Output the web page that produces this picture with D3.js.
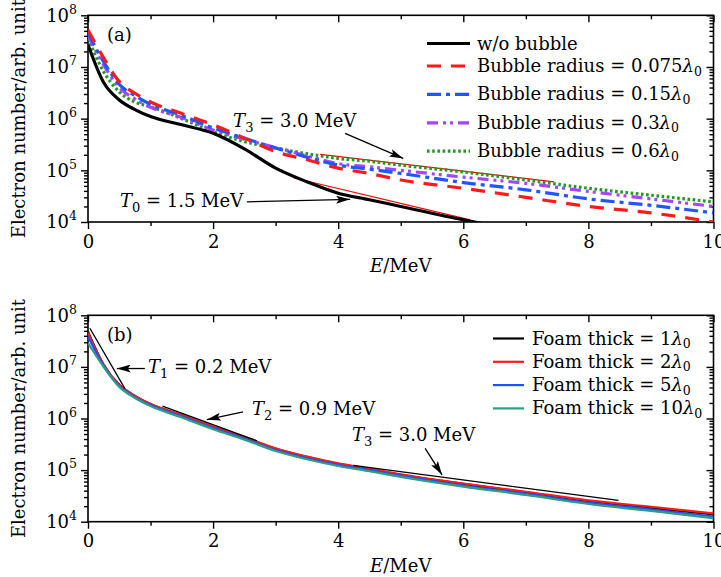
<!DOCTYPE html>
<html>
<head>
<meta charset="utf-8">
<script src="https://cdn.jsdelivr.net/npm/d3@7"></script>
<style>
  body { margin: 0; background: #fff; }
  text { font-family: 'DejaVu Serif', serif; fill: #000; }
</style>
</head>
<body>
<div id="chart"></div>
<script>
// energy grid (MeV) shared by all curves
const energy = [0, 0.25, 0.5, 0.75, 1, 1.5, 2, 2.5, 3, 3.5, 4, 4.5, 5, 6, 7, 8, 9, 10]

// panel (a): bubble radius scan
const noBubble = [2.7e7, 5.0e6, 2.3e6, 1.5e6, 1.1e6, 7.6e5, 5.2e5, 2.6e5, 1.1e5, 6.0e4, 3.6e4, 2.7e4, 2.0e4, 1.1e4, 6.5e3, 4e3, 2.5e3, 1.5e3]
const bubble0075 = [5.2e7, 1.5e7, 5.2e6, 3.1e6, 2.1e6, 1.26e6, 7.6e5, 4.2e5, 2.3e5, 1.6e5, 1.1e5, 8.7e4, 6.5e4, 4.5e4, 3.0e4, 2.0e4, 1.5e4, 1.0e4]
const bubble015 = [4.6e7, 1.26e7, 4.6e6, 2.8e6, 1.9e6, 1.15e6, 6.6e5, 4.2e5, 2.7e5, 1.8e5, 1.26e5, 1.05e5, 8.7e4, 5.8e4, 4.2e4, 2.8e4, 2.1e4, 1.5e4]
const bubble03 = [4.0e7, 1.1e7, 4.0e6, 2.4e6, 1.66e6, 1.05e6, 6.0e5, 4.0e5, 2.75e5, 1.9e5, 1.35e5, 1.17e5, 1.0e5, 7.4e4, 5.6e4, 3.9e4, 2.8e4, 2.0e4]
const bubble06 = [3.6e7, 8.1e6, 3.3e6, 2.1e6, 1.7e6, 1.0e6, 5.6e5, 3.6e5, 2.7e5, 2.1e5, 1.7e5, 1.5e5, 1.26e5, 9.3e4, 6.5e4, 4.5e4, 3.3e4, 2.45e4]
const bubbleLabels = ['w/o bubble', 'Bubble radius = 0.075', 'Bubble radius = 0.15', 'Bubble radius = 0.3', 'Bubble radius = 0.6']

// panel (b): foam thickness scan
const foam1 = [4.8e7, 1.1e7, 4.5e6, 2.75e6, 1.9e6, 1.15e6, 6.8e5, 4.3e5, 2.6e5, 1.8e5, 1.32e5, 1.05e5, 8.1e4, 5.4e4, 3.7e4, 2.5e4, 1.86e4, 1.38e4]
const foam2 = [4.6e7, 1.1e7, 4.5e6, 2.75e6, 1.9e6, 1.17e6, 6.9e5, 4.4e5, 2.65e5, 1.82e5, 1.35e5, 1.07e5, 8.3e4, 5.5e4, 3.8e4, 2.6e4, 1.95e4, 1.45e4]
const foam5 = [3.9e7, 1.05e7, 4.3e6, 2.6e6, 1.82e6, 1.1e6, 6.5e5, 4.1e5, 2.45e5, 1.7e5, 1.26e5, 1.0e5, 7.8e4, 5.0e4, 3.5e4, 2.35e4, 1.74e4, 1.26e4]
const foam10 = [2.9e7, 1.0e7, 4.1e6, 2.5e6, 1.74e6, 1.05e6, 6.2e5, 3.9e5, 2.35e5, 1.62e5, 1.2e5, 9.5e4, 7.4e4, 4.8e4, 3.3e4, 2.2e4, 1.62e4, 1.17e4]
const foamLabels = ['Foam thick = 1', 'Foam thick = 2', 'Foam thick = 5', 'Foam thick = 10']

// temperature fit lines [E, N]
const fitA = [
  { from: [3.71, 2.04e5], to: [7.45, 6.0e4] },
  { from: [3.29, 7.1e4], to: [6.11, 1.1e4] }
]
const fitB = [
  { from: [0.03, 5.6e7], to: [0.59, 3.8e6] },
  { from: [1.19, 1.74e6], to: [2.70, 3.7e5] },
  { from: [4.24, 1.23e5], to: [8.48, 2.6e4] }
]

const W = 721
const H = 577
const left = 88
const right = 713.5

const svg = d3
  .select('#chart')
  .append('svg')
  .attr('width', W)
  .attr('height', H)

const defs = svg.append('defs')
defs
  .append('marker')
  .attr('id', 'arrow')
  .attr('viewBox', '0 0 14 8')
  .attr('refX', 14)
  .attr('refY', 4)
  .attr('markerWidth', 14)
  .attr('markerHeight', 8)
  .attr('markerUnits', 'userSpaceOnUse')
  .attr('orient', 'auto')
  .append('path')
  .attr('d', 'M0,0 L14,4 L0,8 L3,4 Z')
  .attr('fill', '#000')

function makePanel (id, top, bottom) {
  const x = d3.scaleLinear().domain([0, 10]).range([left, right])
  const y = d3.scaleLog().domain([1e4, 1e8]).range([bottom, top])
  const g = svg.append('g')

  defs
    .append('clipPath')
    .attr('id', 'clip-' + id)
    .append('rect')
    .attr('x', left)
    .attr('y', top)
    .attr('width', right - left)
    .attr('height', bottom - top)

  const major = [0, 2, 4, 6, 8, 10]
  const minor = [1, 3, 5, 7, 9]
  const decades = [1e4, 1e5, 1e6, 1e7, 1e8]
  const yMinor = []
  for (let p = 4; p < 8; p++) {
    for (let k = 2; k <= 9; k++) yMinor.push(k * Math.pow(10, p))
  }

  // bottom (labelled) and top ticks, all pointing down
  const xb = g.append('g').attr('class', 'axis').attr('transform', 'translate(0,' + bottom + ')')
    .call(d3.axisBottom(x).tickValues(major).tickSize(7).tickPadding(6).tickFormat(d3.format('d')))
  xb.selectAll('text').attr('font-size', 18)
  g.append('g').attr('transform', 'translate(0,' + bottom + ')')
    .call(d3.axisBottom(x).tickValues(minor).tickSize(4).tickFormat(''))
  g.append('g').attr('transform', 'translate(0,' + top + ')')
    .call(d3.axisBottom(x).tickValues(major).tickSize(7).tickFormat(''))
  g.append('g').attr('transform', 'translate(0,' + top + ')')
    .call(d3.axisBottom(x).tickValues(minor).tickSize(4).tickFormat(''))

  // left (labelled) and right ticks, all pointing left
  const yl = g.append('g').attr('transform', 'translate(' + left + ',0)')
    .call(d3.axisLeft(y).tickValues(decades).tickSize(7).tickPadding(4).tickFormat(''))
  yl.selectAll('.tick text')
    .attr('font-size', 18)
    .each(function (d) {
      const t = d3.select(this)
      t.append('tspan').text('10')
      t.append('tspan').attr('dy', -8).attr('font-size', 12.5).text(Math.round(Math.log10(d)))
    })
  g.append('g').attr('transform', 'translate(' + left + ',0)')
    .call(d3.axisLeft(y).tickValues(yMinor).tickSize(4).tickFormat(''))
  g.append('g').attr('transform', 'translate(' + right + ',0)')
    .call(d3.axisLeft(y).tickValues(decades).tickSize(7).tickFormat(''))
  g.append('g').attr('transform', 'translate(' + right + ',0)')
    .call(d3.axisLeft(y).tickValues(yMinor).tickSize(4).tickFormat(''))

  g.selectAll('.domain').remove()
  g.selectAll('.tick line').attr('stroke', '#000').attr('stroke-width', 1.4)
  g.selectAll('.tick text').attr('font-family', "'DejaVu Serif', serif").attr('fill', '#000')

  g.append('rect')
    .attr('x', left)
    .attr('y', top)
    .attr('width', right - left)
    .attr('height', bottom - top)
    .attr('fill', 'none')
    .attr('stroke', '#000')
    .attr('stroke-width', 1.6)

  // axis titles
  const xt = g.append('text')
    .attr('x', (left + right) / 2)
    .attr('y', bottom + 50)
    .attr('text-anchor', 'middle')
    .attr('font-size', 18)
  xt.append('tspan').attr('font-style', 'italic').text('E')
  xt.append('tspan').text('/MeV')

  g.append('text')
    .attr('transform', 'translate(25,' + (top + bottom) / 2 + ') rotate(-90)')
    .attr('text-anchor', 'middle')
    .attr('font-size', 18)
    .text('Electron number/arb. unit')

  g.append('text')
    .attr('x', 107)
    .attr('y', top + 26)
    .attr('font-size', 18)
    .text('(' + id + ')')

  const plot = g.append('g').attr('clip-path', 'url(#clip-' + id + ')')
  return { x, y, g, plot }
}

function tempLabel (g, x, y, sub, value) {
  const t = g.append('text').attr('x', x).attr('y', y).attr('font-size', 18)
  t.append('tspan').attr('font-style', 'italic').text('T')
  t.append('tspan').attr('dy', 5).attr('font-size', 13).text(sub)
  t.append('tspan').attr('dy', -5).text(' = ' + value + ' MeV')
}

function arrow (g, x1, y1, x2, y2) {
  g.append('line')
    .attr('x1', x1).attr('y1', y1)
    .attr('x2', x2).attr('y2', y2)
    .attr('stroke', '#000')
    .attr('stroke-width', 1.3)
    .attr('marker-end', 'url(#arrow)')
}

function lambdaText (t, label) {
  t.append('tspan').text(label)
  t.append('tspan').attr('font-style', 'italic').text('λ')
  t.append('tspan').attr('dy', 3.5).attr('font-size', 12.5).text('0')
}

// ---------- panel (a) ----------
const A = makePanel('a', 15.3, 222)
const seriesA = [
  { values: noBubble, color: '#000000', dash: null, width: 3.2 },
  { values: bubble0075, color: '#ff1a1a', dash: '14,10', width: 3.2 },
  { values: bubble015, color: '#1f56ff', dash: '14,5,4,5', width: 3.2 },
  { values: bubble03, color: '#a246ff', dash: '11,5,3,4,3,5', width: 3.2 },
  { values: bubble06, color: '#1f9a1f', dash: '2.6,2.6', width: 3.2 }
]
const lineA = d3.line()
  .x(d => A.x(d[0]))
  .y(d => A.y(d[1]))
  .curve(d3.curveMonotoneX)

fitA.forEach(f => {
  A.plot.append('line')
    .attr('x1', A.x(f.from[0])).attr('y1', A.y(f.from[1]))
    .attr('x2', A.x(f.to[0])).attr('y2', A.y(f.to[1]))
    .attr('stroke', '#ff0000')
    .attr('stroke-width', 1.2)
})

seriesA.slice().reverse().forEach(s => {
  A.plot.append('path')
    .datum(energy.map((e, i) => [e, s.values[i]]))
    .attr('d', lineA)
    .attr('fill', 'none')
    .attr('stroke', s.color)
    .attr('stroke-width', s.width)
    .attr('stroke-dasharray', s.dash)
})

tempLabel(A.g, A.x(2.32), A.y(6.9e5), '3', '3.0')
arrow(A.g, A.x(4.11), A.y(5.2e5), A.x(5.04), A.y(1.7e5))
tempLabel(A.g, A.x(0.51), A.y(1.95e4), '0', '1.5')
arrow(A.g, A.x(2.54), A.y(2.45e4), A.x(4.19), A.y(2.75e4))

seriesA.forEach((s, i) => {
  const cy = i === 0 ? 43.5 : 66 + (i - 1) * 28.4
  A.g.append('line')
    .attr('x1', 427).attr('x2', 470)
    .attr('y1', cy).attr('y2', cy)
    .attr('stroke', s.color)
    .attr('stroke-width', s.width)
    .attr('stroke-dasharray', s.dash)
  const t = A.g.append('text').attr('x', 477).attr('y', cy + 6).attr('font-size', 18)
  if (i === 0) t.text(bubbleLabels[i])
  else lambdaText(t, bubbleLabels[i])
})

// ---------- panel (b) ----------
const B = makePanel('b', 315.3, 521.7)
const seriesB = [
  { values: foam1, color: '#000000' },
  { values: foam2, color: '#ff1a1a' },
  { values: foam5, color: '#1f4fff' },
  { values: foam10, color: '#2e9e82' }
]
const lineB = d3.line()
  .x(d => B.x(d[0]))
  .y(d => B.y(d[1]))
  .curve(d3.curveMonotoneX)

seriesB.forEach(s => {
  B.plot.append('path')
    .datum(energy.map((e, i) => [e, s.values[i]]))
    .attr('d', lineB)
    .attr('fill', 'none')
    .attr('stroke', s.color)
    .attr('stroke-width', 2.2)
})

fitB.forEach(f => {
  B.plot.append('line')
    .attr('x1', B.x(f.from[0])).attr('y1', B.y(f.from[1]))
    .attr('x2', B.x(f.to[0])).attr('y2', B.y(f.to[1]))
    .attr('stroke', '#000')
    .attr('stroke-width', 1.3)
})

tempLabel(B.g, B.x(0.96), B.y(7.6e6), '1', '0.2')
arrow(B.g, B.x(0.91), B.y(9.3e6), B.x(0.46), B.y(9.3e6))
tempLabel(B.g, B.x(2.62), B.y(1.17e6), '2', '0.9')
arrow(B.g, B.x(2.48), B.y(1.35e6), B.x(1.90), B.y(9.5e5))
tempLabel(B.g, B.x(4.22), B.y(3.6e5), '3', '3.0')
arrow(B.g, B.x(5.39), B.y(2.63e5), B.x(5.66), B.y(8.1e4))

seriesB.forEach((s, i) => {
  const cy = 338.5 + i * 23.3
  B.g.append('line')
    .attr('x1', 493).attr('x2', 524)
    .attr('y1', cy).attr('y2', cy)
    .attr('stroke', s.color)
    .attr('stroke-width', 2.2)
  const t = B.g.append('text').attr('x', 532).attr('y', cy + 6).attr('font-size', 18)
  lambdaText(t, foamLabels[i])
})
</script>
</body>
</html>
